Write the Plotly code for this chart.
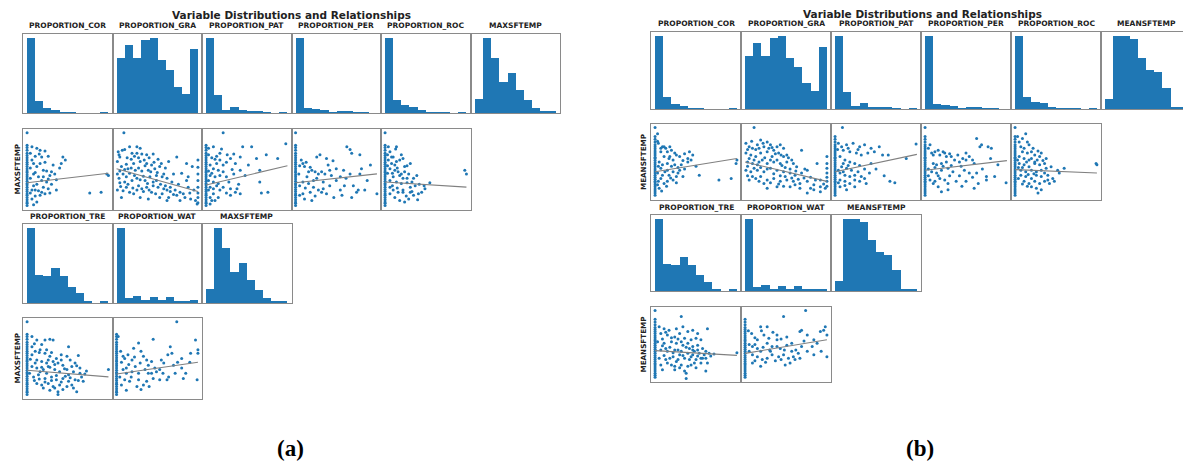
import plotly.graph_objects as go

# target picture size and the page's default body margin
PW, PH = 1191, 466
OFF = 8
W, H = PW - OFF, PH - OFF

# ---------------- histogram counts (10 bins each) ----------------
cor_counts = [190, 30, 12, 7, 2, 1, 0, 0, 0, 2]
gra_counts = [29, 36, 29, 39, 40, 28, 23, 14, 10, 34]
pat_counts = [150, 35, 6, 12, 5, 3, 3, 1, 0, 1]
per_counts = [160, 11, 9, 7, 2, 5, 5, 2, 2, 0]
roc_counts = [150, 25, 15, 12, 5, 2, 1, 1, 0, 2]
tre_counts = [70, 26, 25, 33, 25, 15, 9, 2, 0, 1]
wat_counts = [150, 9, 13, 5, 11, 5, 11, 3, 3, 5]
maxsf_counts = [11, 60, 44, 25, 32, 18, 10, 4, 1, 1]
meansf_counts = [8, 60, 60, 57, 42, 32, 30, 17, 1, 2]

# ---------------- scatter data (percent of range) ----------------
a_strip = [1, 4, 6, 9, 12, 15, 17, 20, 23, 26, 29, 31, 34, 37, 40, 43, 46, 48, 51, 54, 57, 60, 63, 66, 69, 72, 76, 80, 83]
b_strip = [2, 5, 8, 11, 14, 17, 20, 22, 25, 28, 31, 34, 37, 40, 43, 46, 49, 52, 55, 57, 60, 63, 66, 69, 72, 75, 79, 83, 87]

a_cor_pts = [(0,100),(6,81),(12,79),(15,71),(18,67),(26,68),(44,67),(42,58),(6,63),(8,58),(12,54),(20,49),(24,48),(30,47),(34,44),(28,42),(8,44),(14,40),(18,35),(24,33),(8,28),(6,22),(10,22),(14,21),(18,19),(22,17),(28,18),(36,22),(16,15),(6,10),(12,6),(8,2),(98,44),(100,42),(77,18),(91,19),(47,63),
             (4,72),(10,68),(4,52),(16,58),(22,60),(10,46),(20,40),(26,37),(4,38),(12,30),(20,26),(26,24),(4,18),(10,14),(30,30),(32,56),(40,52),(16,76),(22,75),(36,36)]
a_gra_pts = [(9,100),(1,61),(4,67),(2,74),(10,77),(16,81),(25,81),(29,79),(19,72),(31,71),(37,70),(45,71),(51,64),(43,56),(37,58),(29,61),(21,58),(12,57),(6,54),(1,44),(8,44),(16,45),(23,49),(31,48),(39,49),(47,51),(53,54),(58,44),(49,42),(41,40),(33,41),(25,38),(19,35),(10,33),(4,32),(1,22),(8,21),(16,19),(25,22),(31,24),(37,26),(45,28),(51,26),(60,28),(66,26),(72,22),(78,19),(84,12),(91,10),(97,8),(99,3),(100,12),(100,26),(100,44),(100,63),(86,58),(93,54),(74,67),(64,61),(68,33),(53,12),(39,10),(29,12),(21,17),(6,12),(62,8),(78,8),(88,26),(70,44),(86,35),(25,72),(14,51),(35,35),(43,19),(62,22),(74,15),(49,35),(27,28),(12,26),(100,18),(100,35),(100,53),(100,5),
             (3,70),(7,76),(13,66),(18,64),(22,68),(27,66),(34,63),(40,66),(46,60),(55,58),(60,52),(4,48),(10,50),(18,52),(27,52),(35,55),(42,47),(50,46),(56,40),(62,38),(3,38),(12,40),(22,42),(29,36),(38,31),(45,33),(54,30),(58,24),(66,20),(70,16),(5,27),(14,30),(20,25),(33,20),(40,22),(48,17),(56,17),(64,12),(82,17),(90,18),(95,22),(88,40),(80,45),(76,30)]
a_pat_pts = [(21,100),(3,79),(9,81),(17,72),(26,70),(34,71),(42,67),(30,65),(36,58),(17,63),(11,64),(5,56),(9,51),(15,49),(21,47),(5,42),(11,40),(3,35),(9,33),(15,31),(5,26),(13,28),(21,26),(30,24),(38,24),(36,19),(42,17),(30,15),(9,17),(5,12),(11,8),(5,3),(56,81),(62,65),(74,70),(88,65),(98,85),(48,42),(42,49),(52,56),(66,33),(68,18),(76,19),(34,44),(45,81),(66,49),
             (3,70),(7,66),(13,58),(21,56),(25,60),(3,48),(7,45),(17,42),(25,40),(3,22),(9,24),(17,22),(25,18),(7,8),(15,12),(28,33),(32,50),(40,30),(19,78),(13,68)]
a_per_pts = [(0,100),(7,63),(9,58),(11,54),(16,47),(20,49),(24,47),(28,44),(32,47),(36,44),(42,49),(50,51),(59,49),(63,81),(67,77),(69,72),(79,70),(81,51),(79,44),(30,70),(26,67),(9,33),(16,31),(22,26),(28,22),(34,24),(32,19),(18,19),(9,17),(5,15),(20,8),(38,17),(55,22),(57,15),(69,12),(75,19),(77,22),(85,22),(100,17),(71,28),(44,42),(5,28),(14,40),(22,35),(34,33),(50,35),(67,44),
             (5,55),(13,60),(18,53),(40,56),(46,62),(55,40),(62,38),(4,44),(12,25),(24,14),(42,28),(47,12),(60,28),(88,35),(92,56),(38,65),(26,38),(11,10)]
a_roc_pts = [(0,100),(4,81),(6,74),(10,67),(13,78),(4,63),(8,58),(12,56),(14,61),(18,63),(6,51),(12,49),(16,47),(20,44),(24,47),(29,44),(31,58),(24,54),(18,42),(10,40),(6,35),(14,33),(20,31),(27,32),(33,33),(39,42),(37,28),(31,26),(22,22),(16,19),(10,22),(6,17),(12,12),(18,8),(24,6),(29,10),(35,15),(41,17),(45,19),(49,24),(55,32),(100,44),(98,49),(20,70),(14,81),(22,19),(31,19),(6,26),
             (3,70),(8,67),(9,45),(3,55),(15,52),(22,38),(27,38),(35,38),(42,30),(48,28),(3,45),(9,28),(15,25),(26,14),(33,20),(40,9),(22,65),(27,55)]
a_tre_pts = [(0,100),(6,80),(12,75),(18,69),(28,76),(32,75),(51,66),(6,66),(10,60),(16,62),(22,57),(28,53),(36,50),(42,55),(49,53),(63,54),(12,48),(18,46),(24,44),(32,46),(38,44),(44,41),(53,48),(59,44),(6,39),(12,37),(20,35),(26,39),(34,35),(40,32),(49,35),(57,32),(65,30),(71,29),(8,25),(14,28),(22,23),(30,25),(36,21),(44,23),(51,19),(59,21),(67,25),(69,19),(12,16),(18,14),(26,16),(32,12),(40,14),(49,12),(55,14),(20,10),(28,7),(38,5),(61,5),(38,1),(100,35),(6,55),(22,75),(65,37),(51,28),
             (9,70),(15,58),(24,62),(30,58),(34,42),(42,48),(46,36),(55,39),(61,40),(10,44),(16,32),(24,30),(28,38),(36,27),(42,18),(47,26),(53,24),(63,20),(3,30),(9,20),(15,22),(22,18),(30,20),(34,10),(44,8),(57,10),(73,33),(4,49),(18,38),(26,48)]
a_wat_pts = [(74,100),(2,80),(8,53),(10,50),(14,55),(19,48),(27,71),(21,64),(23,39),(29,44),(33,53),(37,48),(39,41),(43,46),(45,76),(47,37),(12,37),(19,32),(27,30),(12,30),(4,25),(10,21),(16,19),(6,14),(12,7),(25,12),(33,14),(37,19),(45,23),(53,21),(49,32),(62,21),(64,25),(66,66),(68,57),(70,41),(72,30),(80,37),(82,23),(91,57),(97,75),(100,62),(100,57),(99,21),(58,44),(39,30),(27,21),(80,50),
             (5,60),(6,45),(15,42),(22,52),(30,60),(35,35),(43,30),(53,35),(57,30),(18,25),(30,8),(40,12),(55,48),(75,45),(85,30),(90,45),(63,55),(8,35)]

b_cor_pts = [(0,100),(3,91),(4,77),(9,72),(13,70),(7,65),(15,65),(20,67),(24,63),(11,58),(17,55),(22,53),(30,58),(42,65),(46,60),(40,55),(44,53),(5,50),(9,46),(15,48),(24,46),(32,46),(7,41),(15,38),(22,36),(30,38),(3,34),(9,31),(17,31),(26,29),(34,29),(7,26),(15,22),(22,24),(11,19),(3,17),(54,31),(78,24),(93,26),(99,48),(100,53),(5,12),(11,72),(28,34),(40,50),
             (3,80),(7,70),(18,72),(26,60),(34,52),(20,44),(28,42),(36,40),(4,44),(12,36),(19,27),(26,20),(4,22),(8,8),(14,15),(50,44),(36,62),(18,58)]
b_gra_pts = [(11,100),(1,77),(5,72),(9,70),(15,75),(19,82),(23,72),(27,79),(31,75),(35,67),(39,72),(43,75),(47,70),(51,60),(1,63),(7,60),(13,58),(19,63),(27,65),(33,58),(41,63),(47,58),(69,67),(3,50),(9,48),(15,46),(21,53),(27,48),(35,50),(43,48),(51,50),(57,53),(63,43),(1,38),(7,36),(15,38),(23,36),(31,41),(39,38),(47,36),(55,34),(61,31),(69,34),(76,38),(5,24),(13,26),(19,29),(27,24),(35,26),(43,22),(51,24),(59,22),(67,19),(76,22),(84,17),(92,14),(100,22),(100,34),(100,48),(100,58),(98,12),(92,7),(84,10),(76,5),(67,12),(55,14),(39,14),(27,12),(92,24),(88,48),(100,28),(100,41),(100,15),
             (3,68),(8,80),(13,68),(17,70),(22,77),(29,70),(33,71),(37,62),(44,60),(53,56),(59,48),(5,55),(11,53),(17,50),(24,56),(31,53),(39,53),(45,45),(49,42),(55,40),(62,37),(3,44),(11,41),(19,42),(27,40),(35,33),(43,30),(49,29),(57,27),(65,25),(72,27),(3,30),(9,29),(17,22),(23,19),(31,20),(41,18),(47,15),(61,17),(80,28),(86,24),(96,18),(80,12),(73,40)]
b_pat_pts = [(9,100),(4,77),(8,72),(14,75),(22,77),(30,72),(36,75),(18,65),(26,63),(32,60),(40,63),(48,65),(54,72),(6,58),(12,53),(18,50),(24,48),(8,43),(14,41),(20,38),(28,36),(6,34),(12,31),(18,29),(6,24),(12,22),(18,19),(24,24),(30,22),(36,26),(42,34),(38,19),(44,48),(58,60),(65,60),(67,22),(73,20),(87,55),(99,76),(6,14),(14,10),
             (3,68),(10,67),(16,70),(28,68),(44,70),(10,48),(16,45),(30,45),(36,40),(4,38),(10,36),(24,31),(32,29),(4,20),(12,16),(24,14),(50,40),(60,30)]
b_per_pts = [(0,100),(6,75),(8,63),(12,65),(16,67),(22,65),(24,63),(18,60),(26,58),(32,58),(10,48),(14,46),(20,48),(26,50),(36,53),(42,50),(46,55),(50,53),(54,58),(63,84),(67,72),(69,75),(77,72),(81,70),(60,48),(58,53),(50,63),(8,36),(14,34),(20,38),(28,41),(34,36),(48,38),(54,34),(63,34),(6,24),(12,22),(18,26),(24,24),(28,19),(38,22),(10,19),(16,14),(28,10),(20,7),(50,22),(65,19),(75,24),(85,29),(89,46),(99,20),(75,29),
             (4,70),(10,60),(30,62),(40,60),(4,40),(12,42),(22,44),(32,45),(44,44),(4,30),(16,30),(30,30),(42,30),(58,28),(70,40),(80,55),(45,15),(60,12)]
b_roc_pts = [(0,100),(3,87),(13,91),(7,72),(11,70),(17,75),(9,65),(15,63),(20,65),(24,60),(5,58),(11,55),(17,53),(24,50),(30,58),(32,63),(5,48),(11,46),(17,43),(24,48),(30,46),(36,48),(7,38),(13,36),(20,38),(26,36),(32,38),(38,41),(44,43),(52,38),(60,41),(7,31),(13,29),(20,26),(26,31),(32,29),(40,31),(46,26),(11,22),(17,19),(24,22),(30,19),(36,22),(42,19),(48,22),(20,14),(26,12),(32,10),(28,5),(99,48),(100,46),(15,79),(38,55),
             (5,79),(9,84),(22,70),(28,66),(3,53),(14,50),(20,55),(27,53),(34,52),(4,42),(9,42),(16,32),(23,33),(36,34),(4,26),(9,18),(15,15),(40,24),(54,34)]
b_tre_pts = [(0,100),(32,91),(5,76),(11,73),(17,71),(26,73),(34,76),(40,69),(46,71),(52,66),(64,73),(7,66),(15,64),(24,61),(30,66),(36,59),(44,57),(50,59),(56,57),(3,54),(11,52),(20,54),(26,52),(34,49),(40,52),(46,47),(52,49),(58,44),(7,42),(15,40),(24,42),(32,40),(40,37),(48,40),(54,37),(60,35),(66,37),(72,36),(5,30),(13,28),(22,32),(28,28),(36,30),(44,32),(50,28),(58,30),(64,23),(7,20),(15,23),(24,18),(32,20),(40,18),(48,23),(56,23),(62,11),(36,11),(38,8),(38,0),(24,13),(9,13),(100,38),
             (9,58),(13,68),(20,60),(28,58),(32,54),(38,46),(42,44),(46,42),(52,42),(62,40),(68,33),(9,48),(13,44),(18,46),(22,38),(28,42),(30,35),(34,34),(42,28),(46,35),(52,33),(56,30),(62,30),(11,34),(18,30),(20,20),(26,25),(30,16),(44,20),(50,16)]
b_wat_pts = [(74,100),(47,91),(8,66),(19,76),(27,76),(15,57),(23,64),(29,59),(39,64),(9,47),(15,44),(19,40),(27,52),(33,47),(39,47),(43,44),(51,49),(57,52),(9,35),(15,32),(21,28),(27,30),(33,35),(41,32),(47,35),(53,30),(59,32),(65,37),(69,47),(67,69),(69,71),(76,64),(82,47),(84,35),(92,69),(96,71),(98,76),(100,64),(100,32),(49,20),(55,23),(61,28),(67,30),(76,40),(9,23),(19,18),(31,40),(39,57),(51,61),(57,40),(84,57),
             (4,70),(12,60),(20,70),(34,68),(44,58),(5,50),(12,50),(22,46),(30,42),(48,42),(5,40),(12,26),(25,24),(37,26),(44,28),(62,42),(72,55),(88,52),(93,40)]

# trend line values at x=0 and x=100
a_trend = {'cor': (32, 45), 'gra': (51, 20), 'pat': (29, 55), 'per': (32, 44),
           'roc': (33, 26), 'tre': (34, 25), 'wat': (29, 45)}
b_trend = {'cor': (36, 55), 'gra': (50, 22), 'pat': (36, 61), 'per': (38, 52),
           'roc': (39, 34), 'tre': (41, 34), 'wat': (37, 57)}

row1_labels_a = ['PROPORTION_COR', 'PROPORTION_GRA', 'PROPORTION_PAT', 'PROPORTION_PER', 'PROPORTION_ROC', 'MAXSFTEMP']
row3_labels_a = ['PROPORTION_TRE', 'PROPORTION_WAT', 'MAXSFTEMP']
row1_labels_b = ['PROPORTION_COR', 'PROPORTION_GRA', 'PROPORTION_PAT', 'PROPORTION_PER', 'PROPORTION_ROC', 'MEANSFTEMP']
row3_labels_b = ['PROPORTION_TRE', 'PROPORTION_WAT', 'MEANSFTEMP']

BLUE = '#1f77b4'
FONT = 'DejaVu Sans'

ax_style = dict(showline=True, linecolor='#8a8a8a', linewidth=1.3, mirror=True,
                showgrid=False, zeroline=False, showticklabels=False, ticks='', fixedrange=True)

fig = go.Figure()
layout = {}
ann = []
counter = [0]


def fx(px):
    return max(0.0, min(1.0, (px - OFF) / W))


def fy(py):
    return max(0.0, min(1.0, 1 - (py - OFF) / H))


def add_axes(pl, pr, pt, pb, xr, yr):
    counter[0] += 1
    n = counter[0]
    sfx = '' if n == 1 else str(n)
    layout['xaxis' + sfx] = dict(domain=[fx(pl), fx(pr)], range=xr, anchor='y' + sfx, **ax_style)
    layout['yaxis' + sfx] = dict(domain=[fy(pb), fy(pt)], range=yr, anchor='x' + sfx, **ax_style)
    return 'x' + sfx, 'y' + sfx


def add_hist(pl, pr, pt, pb, counts):
    xa, ya = add_axes(pl, pr, pt, pb, [-1, 10], [0, max(counts) * 1.05])
    fig.add_trace(go.Bar(x=list(range(len(counts))), y=counts, width=1.0,
                         marker=dict(color=BLUE, line=dict(width=0)),
                         xaxis=xa, yaxis=ya, showlegend=False, hoverinfo='skip'))


def add_scatter(pl, pr, pt, pb, pts, strip, trend):
    xa, ya = add_axes(pl, pr, pt, pb, [-5, 105], [-5, 105])
    xs = [0] * len(strip) + [p[0] for p in pts]
    ys = list(strip) + [p[1] for p in pts]
    fig.add_trace(go.Scatter(x=xs, y=ys, mode='markers',
                             marker=dict(color=BLUE, size=3.0, line=dict(width=0)),
                             xaxis=xa, yaxis=ya, showlegend=False, hoverinfo='skip'))
    fig.add_trace(go.Scatter(x=[0, 100], y=list(trend), mode='lines',
                             line=dict(color='#808080', width=1.1),
                             xaxis=xa, yaxis=ya, showlegend=False, hoverinfo='skip'))


def col_title(cx, top, text):
    ann.append(dict(x=fx(cx), y=fy(top - 1.5), xref='paper', yref='paper',
                    text='<b>' + text + '</b>', showarrow=False, xanchor='center', yanchor='bottom',
                    font=dict(family=FONT, size=7.5, color='#222222')))


def build_panel(x0, w, rows, r1lab, r3lab, hist_r1, hist_r3, sc_r2, sc_r4, ylab, title_x, title_y, ylab_x):
    for i, (lab, cnt) in enumerate(zip(r1lab, hist_r1)):
        l = x0 + i * w
        add_hist(l, l + w, rows[0][0], rows[0][1], cnt)
        col_title(l + w / 2, rows[0][0], lab)
    for i, (pts, strip, tr) in enumerate(sc_r2):
        l = x0 + i * w
        add_scatter(l, l + w, rows[1][0], rows[1][1], pts, strip, tr)
    for i, (lab, cnt) in enumerate(zip(r3lab, hist_r3)):
        l = x0 + i * w
        add_hist(l, l + w, rows[2][0], rows[2][1], cnt)
        col_title(l + w / 2, rows[2][0], lab)
    for i, (pts, strip, tr) in enumerate(sc_r4):
        l = x0 + i * w
        add_scatter(l, l + w, rows[3][0], rows[3][1], pts, strip, tr)
    for r in (1, 3):
        ann.append(dict(x=fx(ylab_x), y=fy((rows[r][0] + rows[r][1]) / 2), xref='paper', yref='paper',
                        text='<b>' + ylab + '</b>', showarrow=False, textangle=-90,
                        xanchor='center', yanchor='middle',
                        font=dict(family=FONT, size=7.2, color='#222222')))
    ann.append(dict(x=fx(title_x), y=fy(title_y), xref='paper', yref='paper',
                    text='<b>Variable Distributions and Relationships</b>', showarrow=False,
                    xanchor='center', yanchor='middle',
                    font=dict(family=FONT, size=10.5, color='#222222')))


build_panel(23, 89.5, [(34, 113), (129, 210), (224, 303), (318, 399)],
            row1_labels_a, row3_labels_a,
            [cor_counts, gra_counts, pat_counts, per_counts, roc_counts, maxsf_counts],
            [tre_counts, wat_counts, maxsf_counts],
            [(a_cor_pts, a_strip, a_trend['cor']), (a_gra_pts, [], a_trend['gra']),
             (a_pat_pts, a_strip, a_trend['pat']), (a_per_pts, a_strip, a_trend['per']),
             (a_roc_pts, a_strip, a_trend['roc'])],
            [(a_tre_pts, a_strip, a_trend['tre']), (a_wat_pts, a_strip, a_trend['wat'])],
            'MAXSFTEMP', 291, 15, 17)

build_panel(651, 90, [(32, 109), (124, 200), (215, 291), (307, 382)],
            row1_labels_b, row3_labels_b,
            [cor_counts, gra_counts, pat_counts, per_counts, roc_counts, meansf_counts],
            [tre_counts, wat_counts, meansf_counts],
            [(b_cor_pts, b_strip, b_trend['cor']), (b_gra_pts, [], b_trend['gra']),
             (b_pat_pts, b_strip, b_trend['pat']), (b_per_pts, b_strip, b_trend['per']),
             (b_roc_pts, b_strip, b_trend['roc'])],
            [(b_tre_pts, b_strip, b_trend['tre']), (b_wat_pts, b_strip, b_trend['wat'])],
            'MEANSFTEMP', 922, 14, 643)

for lab, px in (('(a)', 290), ('(b)', 920)):
    ann.append(dict(x=fx(px), y=fy(448), xref='paper', yref='paper', text='<b>' + lab + '</b>',
                    showarrow=False, xanchor='center', yanchor='middle',
                    font=dict(family='Liberation Serif', size=23, color='#000000')))

layout.update(dict(width=W, height=H, margin=dict(l=0, r=0, t=0, b=0),
                   paper_bgcolor='white', plot_bgcolor='white', bargap=0,
                   showlegend=False, annotations=ann))
fig.update_layout(**layout)
fig.write_html('out.html', config={'displayModeBar': False})
